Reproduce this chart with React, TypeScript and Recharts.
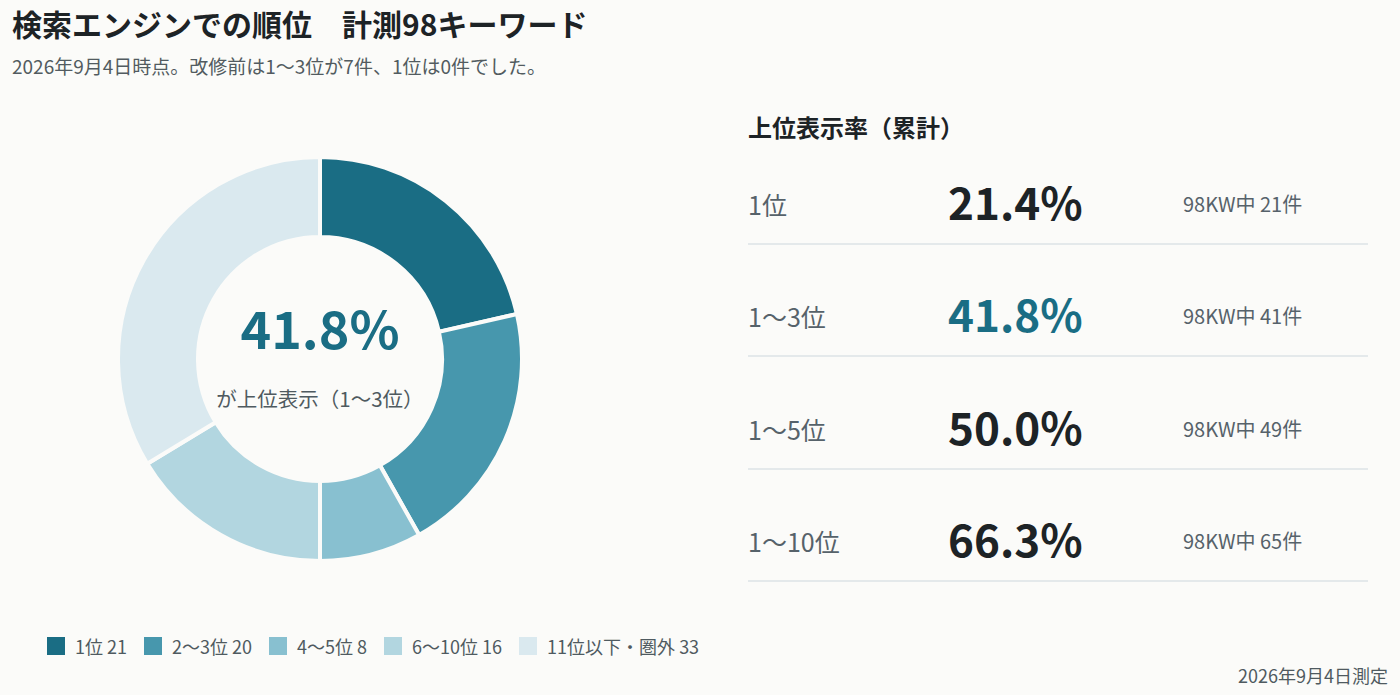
import React from "react";
import { PieChart, Pie, Cell } from "recharts";

const segmentNames = ["1位", "2〜3位", "4〜5位", "6〜10位", "11位以下・圏外"];
const segmentCounts = [21, 20, 8, 16, 33];
const segmentColors = ["#1a6d84", "#4797ad", "#88c0d0", "#b2d6e0", "#dae9ef"];

const rateLabels = ["1位", "1〜3位", "1〜5位", "1〜10位"];
const rateValues = ["21.4%", "41.8%", "50.0%", "66.3%"];
const rateCounts = [21, 41, 49, 65];
const highlightRow = 1;

const totalKeywords = 98;

const pieData = segmentNames.map((name, i) => ({
  name,
  value: segmentCounts[i],
}));

const BG = "#fbfbf9";
const FONT = '"Noto Sans CJK JP", "Noto Sans", sans-serif';

function SegmentLegend() {
  return (
    <div
      style={{
        position: "absolute",
        left: 47,
        top: 631,
        display: "flex",
        alignItems: "center",
        height: 30,
      }}
    >
      {pieData.map((d, i) => (
        <div
          key={i}
          style={{ display: "flex", alignItems: "center", marginRight: 17 }}
        >
          <span
            style={{
              width: 18,
              height: 18,
              background: segmentColors[i],
              marginRight: 10,
              display: "inline-block",
            }}
          />
          <span style={{ fontSize: 18, color: "#4f5a60", lineHeight: "28px" }}>
            {d.name} {d.value}
          </span>
        </div>
      ))}
    </div>
  );
}

export default function App() {
  return (
    <div
      style={{
        position: "absolute",
        left: 0,
        top: 0,
        width: 1400,
        height: 695,
        background: BG,
        fontFamily: FONT,
        overflow: "hidden",
      }}
    >
      <div
        style={{
          position: "absolute",
          left: 12,
          top: 3,
          fontSize: 30,
          fontWeight: 700,
          color: "#1d2326",
          whiteSpace: "pre",
          lineHeight: "40px",
        }}
      >
        検索エンジンでの順位　計測98キーワード
      </div>
      <div
        style={{
          position: "absolute",
          left: 12,
          top: 53,
          fontSize: 19,
          color: "#525b60",
          lineHeight: "26px",
        }}
      >
        2026年9月4日時点。改修前は1〜3位が7件、1位は0件でした。
      </div>

      <div style={{ position: "absolute", left: 100, top: 139 }}>
        <PieChart
          width={440}
          height={440}
          margin={{ top: 0, right: 0, bottom: 0, left: 0 }}
        >
          <Pie
            data={pieData}
            dataKey="value"
            nameKey="name"
            cx={220}
            cy={220}
            innerRadius={122}
            outerRadius={202}
            startAngle={90}
            endAngle={-270}
            stroke={BG}
            strokeWidth={4}
            isAnimationActive={false}
          >
            {pieData.map((_, i) => (
              <Cell key={i} fill={segmentColors[i]} />
            ))}
          </Pie>
        </PieChart>
      </div>

      <SegmentLegend />

      <div
        style={{
          position: "absolute",
          left: 120,
          width: 400,
          top: 294,
          textAlign: "center",
          fontSize: 52,
          fontWeight: 700,
          color: "#1a6d84",
          lineHeight: "66px",
        }}
      >
        {rateValues[highlightRow]}
      </div>
      <div
        style={{
          position: "absolute",
          left: 120,
          width: 400,
          top: 383,
          textAlign: "center",
          fontSize: 20.5,
          color: "#4f5a60",
          lineHeight: "30px",
        }}
      >
        が上位表示（1〜3位）
      </div>

      <div
        style={{
          position: "absolute",
          left: 748,
          top: 111,
          fontSize: 24,
          fontWeight: 700,
          color: "#1d2326",
          lineHeight: "32px",
        }}
      >
        上位表示率（累計）
      </div>

      {rateLabels.map((label, i) => {
        const top = 150 + i * 112.3;
        return (
          <div
            key={i}
            style={{
              position: "absolute",
              left: 748,
              top,
              width: 620,
              height: 93,
              borderBottom: "2px solid #e4e9eb",
            }}
          >
            <div
              style={{
                position: "absolute",
                left: 0,
                top: 37,
                fontSize: 25,
                color: "#56626a",
                lineHeight: "34px",
              }}
            >
              {label}
            </div>
            <div
              style={{
                position: "absolute",
                left: 200,
                top: 23,
                fontSize: 44,
                fontWeight: 700,
                color: i === highlightRow ? "#1a6d84" : "#1d2326",
                lineHeight: "56px",
              }}
            >
              {rateValues[i]}
            </div>
            <div
              style={{
                position: "absolute",
                left: 435,
                top: 40,
                fontSize: 20,
                color: "#56626a",
                lineHeight: "28px",
              }}
            >
              {totalKeywords}KW中 {rateCounts[i]}件
            </div>
          </div>
        );
      })}

      <div
        style={{
          position: "absolute",
          right: 12,
          top: 662,
          fontSize: 18,
          color: "#4f5a60",
          lineHeight: "26px",
        }}
      >
        2026年9月4日測定
      </div>
    </div>
  );
}
